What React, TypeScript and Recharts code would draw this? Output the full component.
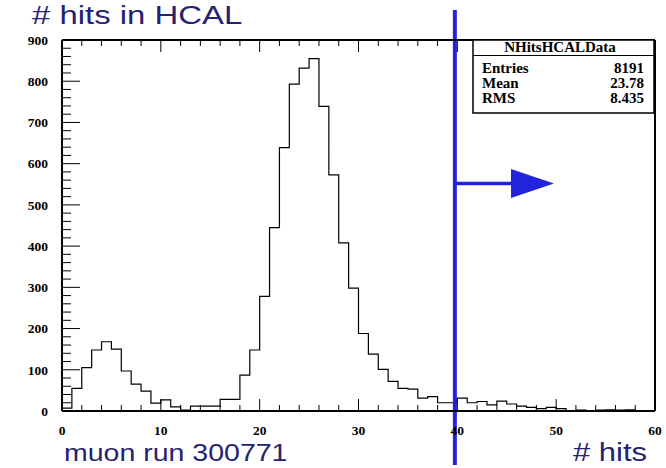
import React from "react";
import { ComposedChart, Line, XAxis, YAxis, ReferenceLine } from "recharts";

// histogram: number of hits in HCAL, 1-hit bins from 0 to 60
const binEdges = [
  0, 1, 2, 3, 4, 5, 6, 7, 8, 9, 10, 11, 12, 13, 14, 15, 16, 17, 18, 19, 20,
  21, 22, 23, 24, 25, 26, 27, 28, 29, 30, 31, 32, 33, 34, 35, 36, 37, 38, 39,
  40, 41, 42, 43, 44, 45, 46, 47, 48, 49, 50, 51, 52, 53, 54, 55, 56, 57, 58,
  59, 60,
];
const counts = [
  7, 55, 105, 148, 168, 150, 97, 65, 48, 19, 27, 10, 2, 12, 12, 12, 28, 28,
  87, 148, 278, 445, 639, 793, 832, 855, 739, 573, 408, 298, 188, 138, 101, 72,
  55, 53, 31, 35, 20, 20, 31, 20, 23, 15, 24, 17, 12, 9, 6, 9, 6, 1, 2, 1, 2, 3,
  2, 3, 1, 1,
];
const xTickLabels = [0, 10, 20, 30, 40, 50, 60];
const yTickLabels = [0, 100, 200, 300, 400, 500, 600, 700, 800, 900];

const statsTitle = "NHitsHCALData";
const statsNames = ["Entries", "Mean", "RMS"];
const statsValues = ["8191", "23.78", "8.435"];

const cutValue = 39.75;
const arrowTipX = 49.78;
const arrowLevel = 552;

const data = binEdges.map((x, i) => ({
  x,
  c: counts[Math.min(i, counts.length - 1)],
}));

// minor ticks: 5 per major division
const subdivide = (majors: number[]) => {
  const out: number[] = [];
  for (let i = 0; i < majors.length - 1; i++) {
    const step = (majors[i + 1] - majors[i]) / 5;
    for (let k = 0; k < 5; k++) out.push(majors[i] + k * step);
  }
  out.push(majors[majors.length - 1]);
  return out;
};
const xTicks = subdivide(xTickLabels);
const yTicks = subdivide(yTickLabels);

const NAVY = "#26226f";
const BLUE = "#2323dc";
const labelFont = {
  fontFamily: "'Liberation Serif', 'Times New Roman', serif",
  fontWeight: 700,
  fontSize: 13.5,
  fill: "#000",
};

const BottomTick = (props: any) => {
  const { x, y, payload } = props;
  const major = xTickLabels.includes(payload.value);
  return (
    <g>
      <line x1={x} y1={y} x2={x} y2={y - (major ? 12 : 6)} stroke="#000" />
      {major && (
        <text x={x} y={y + 24} textAnchor="middle" {...labelFont}>
          {payload.value}
        </text>
      )}
    </g>
  );
};

const TopTick = (props: any) => {
  const { x, y, payload } = props;
  const major = xTickLabels.includes(payload.value);
  return <line x1={x} y1={y} x2={x} y2={y + (major ? 12 : 6)} stroke="#000" />;
};

const LeftTick = (props: any) => {
  const { x, y, payload } = props;
  const major = yTickLabels.includes(payload.value);
  return (
    <g>
      <line x1={x} y1={y} x2={x + (major ? 18 : 9)} y2={y} stroke="#000" />
      {major && (
        <text x={x - 14} y={y} dy="0.35em" textAnchor="end" {...labelFont}>
          {payload.value}
        </text>
      )}
    </g>
  );
};

const RightTick = (props: any) => {
  const { x, y, payload } = props;
  const major = yTickLabels.includes(payload.value);
  return <line x1={x} y1={y} x2={x - (major ? 18 : 9)} y2={y} stroke="#000" />;
};

const ArrowShape = (props: any) => {
  const { x1, y1, x2, y2 } = props;
  const head = 43;
  const half = 14.5;
  return (
    <g>
      <line x1={x1} y1={y1} x2={x2 - head + 2} y2={y2} stroke={BLUE} strokeWidth={3.5} />
      <polygon
        points={`${x2 - head},${y2 - half} ${x2},${y2} ${x2 - head},${y2 + half}`}
        fill={BLUE}
      />
    </g>
  );
};

const sansText = "'Liberation Sans', Arial, sans-serif";

export default function App() {
  return (
    <div style={{ position: "absolute", left: 0, top: 0, width: 666, height: 468, background: "#fff" }}>
      <ComposedChart
        width={666}
        height={468}
        data={data}
        margin={{ top: 0, right: 0, bottom: 0, left: 0 }}
      >
        <XAxis
          xAxisId="b"
          dataKey="x"
          type="number"
          domain={[0, 60]}
          ticks={xTicks}
          interval={0}
          height={57}
          tickSize={0}
          tickMargin={0}
          tickLine={false}
          tick={BottomTick}
          axisLine={{ stroke: "#000", strokeWidth: 2 }}
        />
        <XAxis
          xAxisId="t"
          orientation="top"
          dataKey="x"
          type="number"
          domain={[0, 60]}
          ticks={xTicks}
          interval={0}
          height={40}
          tickSize={0}
          tickMargin={0}
          tickLine={false}
          tick={TopTick}
          axisLine={{ stroke: "#000", strokeWidth: 2 }}
        />
        <YAxis
          yAxisId="l"
          type="number"
          domain={[0, 900]}
          ticks={yTicks}
          interval={0}
          width={62}
          tickSize={0}
          tickMargin={0}
          tickLine={false}
          tick={LeftTick}
          axisLine={{ stroke: "#000", strokeWidth: 2 }}
        />
        <YAxis
          yAxisId="r"
          orientation="right"
          type="number"
          domain={[0, 900]}
          ticks={yTicks}
          interval={0}
          width={11}
          tickSize={0}
          tickMargin={0}
          tickLine={false}
          tick={RightTick}
          axisLine={{ stroke: "#000", strokeWidth: 2 }}
        />
        <Line
          xAxisId="b"
          yAxisId="l"
          dataKey="c"
          type="stepAfter"
          stroke="#000"
          strokeWidth={1.2}
          dot={false}
          activeDot={false}
          isAnimationActive={false}
        />
        <ReferenceLine
          xAxisId="b"
          yAxisId="l"
          ifOverflow="visible"
          segment={[
            { x: cutValue, y: 973 },
            { x: cutValue, y: -131 },
          ]}
          stroke={BLUE}
          strokeWidth={4}
        />
        <ReferenceLine
          xAxisId="b"
          yAxisId="l"
          ifOverflow="visible"
          segment={[
            { x: cutValue, y: arrowLevel },
            { x: arrowTipX, y: arrowLevel },
          ]}
          shape={ArrowShape}
        />
      </ComposedChart>
      <svg
        width={666}
        height={468}
        style={{ position: "absolute", left: 0, top: 0, pointerEvents: "none" }}
      >
        <rect x={473} y={40} width={181} height={73} fill="#fff" stroke="#000" strokeWidth={1.5} />
        <line x1={473} y1={55.5} x2={654} y2={55.5} stroke="#000" strokeWidth={1.2} />
        <text x={560} y={51.5} textAnchor="middle" {...labelFont} fontSize={15}>
          {statsTitle}
        </text>
        {statsNames.map((n, i) => (
          <g key={n}>
            <text x={482} y={72.5 + i * 15} {...labelFont} fontSize={15}>
              {n}
            </text>
            <text x={644} y={72.5 + i * 15} textAnchor="end" {...labelFont} fontSize={15}>
              {statsValues[i]}
            </text>
          </g>
        ))}
        <text
          transform="translate(32,24) scale(1.29,1)"
          fontFamily={sansText}
          fontSize={25.5}
          fill={NAVY}
        >
          # hits in HCAL
        </text>
        <text
          transform="translate(64,461) scale(1.24,1)"
          fontFamily={sansText}
          fontSize={23}
          fill={NAVY}
        >
          muon run 300771
        </text>
        <text
          transform="translate(573,461) scale(1.24,1)"
          fontFamily={sansText}
          fontSize={25}
          fill={NAVY}
        >
          # hits
        </text>
      </svg>
    </div>
  );
}
